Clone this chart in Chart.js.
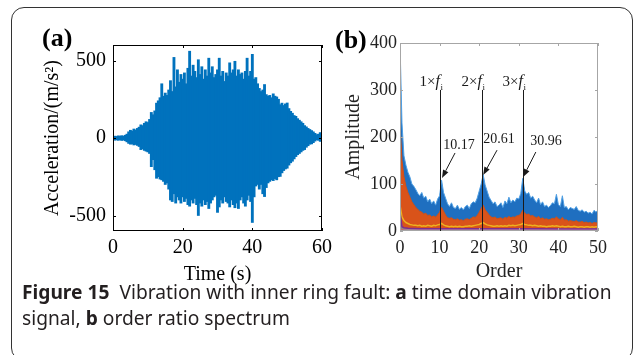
<!DOCTYPE html>
<html>
<head>
<meta charset="utf-8">
<script src="https://cdn.jsdelivr.net/npm/chart.js@4.4.1/dist/chart.umd.min.js"></script>
<style>
  body { margin: 0; width: 635px; height: 355px; background: #fff; position: relative; overflow: hidden; }
  #frame { position: absolute; left: 11px; top: 7px; width: 620px; height: 352px; border: 1.3px solid #333; border-radius: 13px; }
  #chartA { position: absolute; left: 0; top: 0; }
  #panelB { position: absolute; left: 320px; top: 0; width: 315px; height: 290px; filter: blur(0.45px); }
  #chartB { position: absolute; left: 0; top: 0; }
  .tag { position: absolute; font: bold 26px "Liberation Serif", serif; line-height: 26px; color: #000; }
  #caption { position: absolute; left: 22px; top: 279px; font: 19.2px "Noto Sans", sans-serif; line-height: 26px; color: #231f20; white-space: nowrap; }
  #caption b { font-weight: 700; }
</style>
</head>
<body>
<div id="frame"></div>
<canvas id="chartA" width="340" height="290"></canvas>
<div class="tag" style="left:42px;top:25px">(a)</div>
<div id="panelB">
  <canvas id="chartB" width="315" height="290"></canvas>
  <div class="tag" style="left:15px;top:27px">(b)</div>
</div>
<div id="caption"><b>Figure 15</b>&nbsp; Vibration with inner ring fault: <b>a</b> time domain vibration<br>signal, <b>b</b> order ratio spectrum</div>

<script>
// ---- (a) time-domain vibration: peak range of the acceleration in each 0.5 s window ----
const timeS = Array.from({ length: 121 }, (_, i) => i * 0.5);
const accUpper = [
  10, 12, 10, 14, 12, 15, 12, 18, 25, 40,
  50, 45, 58, 52, 62, 70, 85, 80, 95, 105,
  100, 120, 165, 150, 175, 225, 240, 260, 350, 270,
  290, 275, 310, 370, 300, 520, 330, 440, 360, 410,
  380, 420, 350, 450, 560, 400, 470, 430, 390, 505,
  410, 460, 380, 440, 400, 515, 420, 460, 390, 410,
  440, 515, 400, 430, 365, 420, 400, 485, 420, 440,
  495, 400, 440, 410, 420, 380, 430, 515, 400, 430,
  540, 380, 390, 350, 320, 300, 310, 345, 280, 270,
  275, 260, 285, 270, 265, 250, 215, 225, 210, 220,
  226, 190, 172, 160, 145, 140, 125, 115, 105, 95,
  80, 72, 62, 55, 48, 40, 30, 22, 25, 35,
  30
];
const accLower = [
  -12, -14, -12, -15, -12, -16, -13, -18, -25, -35,
  -40, -38, -45, -42, -48, -55, -75, -70, -80, -85,
  -90, -100, -185, -140, -205, -260, -250, -265, -270, -280,
  -300, -290, -330, -400, -410, -360, -420, -380, -400, -420,
  -380, -410, -390, -430, -440, -400, -420, -390, -430, -500,
  -420, -440, -400, -430, -410, -455, -420, -400, -380, -370,
  -480, -445, -400, -420, -380, -410, -420, -445, -400, -430,
  -450, -420, -455, -400, -380, -420, -440, -400, -370, -410,
  -545, -380, -310, -300, -330, -300, -360, -378, -320, -290,
  -280, -270, -275, -262, -270, -250, -248, -225, -210, -200,
  -195, -175, -160, -150, -135, -120, -108, -100, -90, -80,
  -75, -60, -50, -40, -38, -30, -20, -12, -15, -22,
  -20
];
const accTicks = [-500, 0, 500];

// ---- (b) order ratio spectrum, sampled every 0.5 order ----
const orders = Array.from({ length: 101 }, (_, i) => i * 0.5);
const ampBlue = [
  400, 230, 160, 140, 125, 115, 100, 95, 88, 80,
  75, 82, 70, 74, 62, 68, 58, 64, 55, 68,
  75, 108, 82, 70, 58, 52, 60, 50, 48, 55,
  46, 50, 45, 52, 55, 48, 58, 62, 60, 70,
  85, 100, 120, 98, 85, 72, 65, 58, 62, 52,
  55, 60, 50, 64, 58, 72, 60, 66, 62, 70,
  68, 80, 112, 85, 78, 82, 70, 74, 66, 60,
  70, 56, 62, 52, 55, 50, 54, 60, 58, 78,
  56, 52, 75, 50, 52, 45, 50, 48, 46, 52,
  44, 42, 45, 40, 42, 38, 40, 36, 44, 40,
  45
];
const ampOrange = [
  225, 150, 115, 95, 82, 72, 62, 56, 50, 46,
  42, 40, 36, 38, 33, 34, 30, 32, 30, 34,
  40, 50, 42, 34, 28, 27, 28, 25, 24, 26,
  23, 24, 22, 25, 26, 24, 27, 30, 29, 33,
  40, 48, 55, 45, 40, 34, 30, 28, 30, 26,
  27, 28, 25, 29, 27, 31, 28, 30, 29, 32,
  33, 36, 44, 38, 35, 36, 32, 33, 30, 28,
  31, 26, 28, 25, 26, 24, 25, 27, 26, 30,
  26, 24, 29, 23, 24, 21, 22, 21, 20, 22,
  19, 19, 20, 18, 19, 17, 18, 16, 18, 17,
  18
];
const ampYellow = [
  55, 30, 22, 18, 16, 14, 13, 12, 12, 11,
  12, 10, 11, 10, 12, 11, 10, 12, 11, 13,
  14, 16, 13, 11, 10, 9, 10, 9, 10, 9,
  10, 9, 9, 10, 10, 11, 10, 11, 12, 13,
  14, 16, 18, 15, 13, 12, 11, 10, 10, 11,
  10, 11, 10, 11, 10, 12, 11, 12, 11, 12,
  13, 14, 16, 14, 13, 12, 12, 11, 12, 11,
  10, 11, 10, 10, 9, 10, 10, 11, 10, 11,
  10, 9, 10, 9, 9, 10, 9, 9, 10, 9,
  8, 9, 9, 8, 9, 9, 8, 9, 8, 9,
  9
];
const lowOrders = [0, 0.5, 1, 2, 5, 10, 15, 20, 25, 30, 35, 40, 45, 50];
const ampPurple = [40, 9, 7, 6, 5, 5, 5, 5, 5, 5, 5, 4, 4, 4];
const ampGray = [25, 6, 5, 4, 3, 3, 3, 3, 3, 3, 3, 3, 3, 3];
const ampPink = [2, 1, 1, 1, 1, 1, 1, 1, 1, 1, 1, 1, 1, 1];

// fault characteristic orders (inner ring) and their harmonic labels
const faultOrders = [10.17, 20.61, 30.96];
const harmonicLabels = ['1\u00d7', '2\u00d7', '3\u00d7'];

const serif = '"Liberation Serif", "Times New Roman", serif';
const xy = (xs, ys) => ys.map((v, i) => ({ x: xs[i], y: v }));

// MATLAB style box with inward ticks on all four sides
const axisBox = {
  id: 'axisBox',
  afterDatasetsDraw(chart, args, opts) {
    const { ctx, chartArea: { left, right, top, bottom }, scales: { x, y } } = chart;
    ctx.save();
    ctx.strokeStyle = opts.color;
    ctx.lineWidth = 1;
    ctx.strokeRect(left + 0.5, top + 0.5, right - left - 1, bottom - top - 1);
    ctx.beginPath();
    x.ticks.forEach(t => {
      const px = Math.round(x.getPixelForValue(t.value)) + 0.5;
      ctx.moveTo(px, bottom); ctx.lineTo(px, bottom - opts.len);
      ctx.moveTo(px, top); ctx.lineTo(px, top + opts.len);
    });
    y.ticks.forEach(t => {
      const py = Math.round(y.getPixelForValue(t.value)) + 0.5;
      ctx.moveTo(left, py); ctx.lineTo(left + opts.len, py);
      ctx.moveTo(right, py); ctx.lineTo(right - opts.len, py);
    });
    ctx.stroke();
    ctx.restore();
  }
};

// vertical harmonic lines, n×f_i labels and the arrowed peak values
const orderMarks = {
  id: 'orderMarks',
  afterDatasetsDraw(chart, args, o) {
    const { ctx, scales: { x, y } } = chart;
    ctx.save();
    ctx.strokeStyle = '#1a1a1a';
    ctx.fillStyle = '#1a1a1a';
    ctx.lineWidth = 1;
    faultOrders.forEach((ord, i) => {
      const px = Math.round(x.getPixelForValue(ord)) + 0.5;
      const pTop = y.getPixelForValue(o.lineTop);
      ctx.beginPath();
      ctx.moveTo(px, y.getPixelForValue(0));
      ctx.lineTo(px, pTop);
      ctx.stroke();

      // n×f with subscript i
      ctx.textBaseline = 'alphabetic';
      ctx.textAlign = 'left';
      const fontN = '15px ' + serif, fontF = 'italic 16px ' + serif, fontS = '9px ' + serif;
      ctx.font = fontN; const w1 = ctx.measureText(harmonicLabels[i]).width;
      ctx.font = fontF; const w2 = ctx.measureText('f').width;
      ctx.font = fontS; const w3 = ctx.measureText('i').width;
      let sx = px + 2 - (w1 + w2 + w3);
      const base = pTop - 4;
      ctx.font = fontN; ctx.fillText(harmonicLabels[i], sx, base); sx += w1;
      ctx.font = fontF; ctx.fillText('f', sx, base); sx += w2 + 0.5;
      ctx.font = fontS; ctx.fillText('i', sx, base + 4);

      // peak value text
      const [tx, ty] = o.textAt[i];
      ctx.font = '14px ' + serif;
      ctx.textAlign = 'center';
      ctx.textBaseline = 'middle';
      ctx.fillText(ord.toFixed(2), x.getPixelForValue(tx), y.getPixelForValue(ty));

      // arrow
      const ax = x.getPixelForValue(o.tail[i][0]), ay = y.getPixelForValue(o.tail[i][1]);
      const hx = x.getPixelForValue(o.head[i][0]), hy = y.getPixelForValue(o.head[i][1]);
      const ang = Math.atan2(hy - ay, hx - ax);
      const L = 8, W = 3;
      const bx = hx - L * Math.cos(ang), by = hy - L * Math.sin(ang);
      ctx.beginPath();
      ctx.moveTo(ax, ay);
      ctx.lineTo(bx, by);
      ctx.stroke();
      ctx.beginPath();
      ctx.moveTo(hx, hy);
      ctx.lineTo(bx - W * Math.sin(ang), by + W * Math.cos(ang));
      ctx.lineTo(bx + W * Math.sin(ang), by - W * Math.cos(ang));
      ctx.closePath();
      ctx.fill();
    });
    ctx.restore();
  }
};

const tickFont = size => ({ family: serif, size: size });

new Chart(document.getElementById('chartA'), {
  type: 'bar',
  data: {
    datasets: [{
      // each bar spans the min..max of the signal inside its window
      data: timeS.map((t, i) => ({ x: t, y: [accLower[i], accUpper[i]] })),
      backgroundColor: '#0072bd',
      borderWidth: 0,
      barThickness: 2.2,
      borderSkipped: false
    }]
  },
  options: {
    responsive: false,
    animation: false,
    layout: { padding: { left: 41, top: 45, right: 18, bottom: 3 } },
    plugins: { legend: { display: false }, tooltip: { enabled: false }, axisBox: { color: '#000', len: 3 } },
    scales: {
      x: {
        type: 'linear', min: 0, max: 60, offset: false,
        grid: { display: false, drawTicks: false, offset: false }, border: { display: false },
        ticks: { stepSize: 20, padding: 5, color: '#000', font: tickFont(20), maxRotation: 0 },
        title: { display: true, text: 'Time (s)', color: '#000', font: tickFont(20), padding: 0 },
        afterFit(s) { s.height = 56; }
      },
      y: {
        min: -600, max: 600,
        afterBuildTicks(s) { s.ticks = accTicks.map(v => ({ value: v })); },
        grid: { display: false, drawTicks: false }, border: { display: false },
        ticks: { padding: 7, color: '#000', font: tickFont(20) },
        title: { display: true, text: 'Acceleration/(m/s\u00b2)', color: '#000', font: tickFont(20), padding: 0 },
        afterFit(s) { s.width = 72; }
      }
    }
  },
  plugins: [axisBox]
});

new Chart(document.getElementById('chartB'), {
  type: 'line',
  data: {
    datasets: [
      { data: xy(orders, ampBlue), borderColor: '#4f9fe3', backgroundColor: '#1f6fc0', borderWidth: 1, fill: 'origin', order: 5 },
      { data: xy(orders, ampOrange), borderColor: '#cf5118', backgroundColor: '#d9531a', borderWidth: 1, fill: 'origin', order: 4 },
      { data: xy(orders, ampYellow), borderColor: '#edb120', borderWidth: 1.5, fill: false, order: 3 },
      { data: xy(lowOrders, ampGray), borderColor: '#8a8a8a', borderWidth: 2, fill: false, order: 2 },
      { data: xy(lowOrders, ampPurple), borderColor: '#7e2f8e', borderWidth: 1.5, fill: false, order: 1 },
      { data: xy(lowOrders, ampPink), borderColor: '#e377c2', borderWidth: 1.5, fill: false, order: 0 }
    ]
  },
  options: {
    responsive: false,
    animation: false,
    layout: { padding: { left: 22, top: 43, right: 37, bottom: 6 } },
    elements: { point: { radius: 0 }, line: { tension: 0 } },
    plugins: {
      legend: { display: false }, tooltip: { enabled: false },
      axisBox: { color: '#a6a6a6', len: 3 },
      orderMarks: {
        lineTop: 300,
        textAt: [[14.9, 183], [25.0, 194], [36.9, 191]],
        tail: [[13.9, 166], [24.5, 172], [34.3, 168]],
        head: [[10.6, 113], [21.0, 119], [31.1, 115]]
      }
    },
    scales: {
      x: {
        type: 'linear', min: 0, max: 50,
        grid: { display: false, drawTicks: false }, border: { display: false },
        ticks: { stepSize: 10, padding: 6, color: '#222', font: tickFont(18), maxRotation: 0 },
        title: { display: true, text: 'Order', color: '#222', font: tickFont(20), padding: 0 },
        afterFit(s) { s.height = 53; }
      },
      y: {
        min: 0, max: 400,
        grid: { display: false, drawTicks: false }, border: { display: false },
        ticks: { stepSize: 100, padding: 3, color: '#222', font: tickFont(18) },
        title: { display: true, text: 'Amplitude', color: '#222', font: tickFont(20), padding: 0 },
        afterFit(s) { s.width = 58; }
      }
    }
  },
  plugins: [axisBox, orderMarks]
});
</script>
</body>
</html>
